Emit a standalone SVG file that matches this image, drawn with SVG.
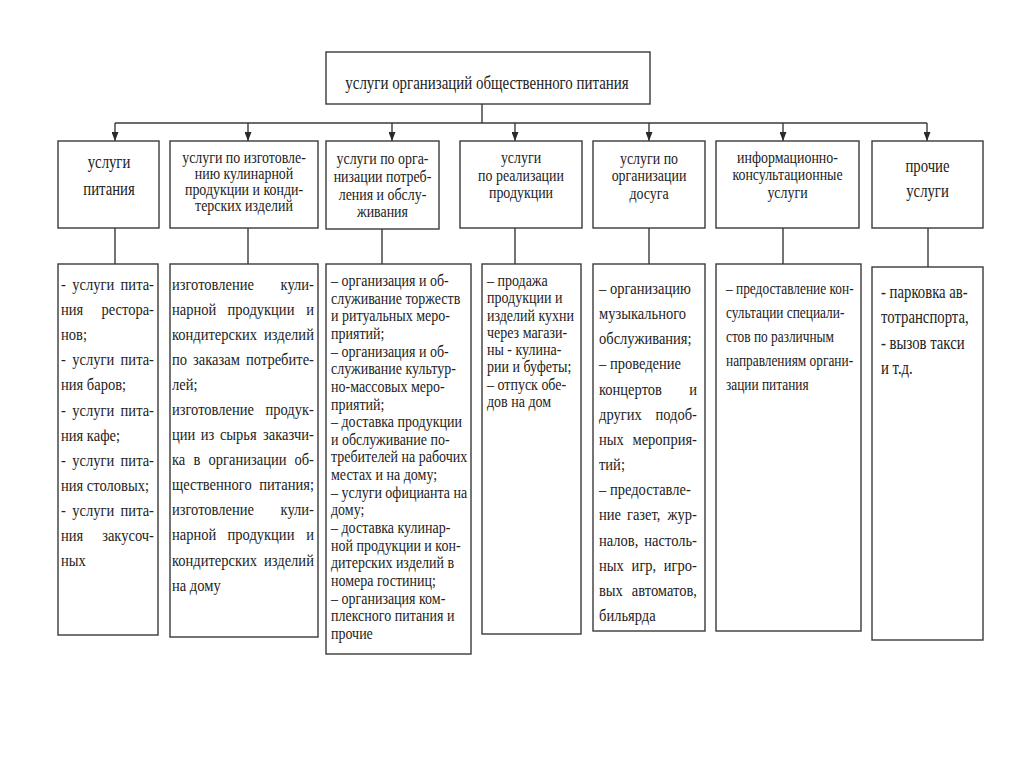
<svg xmlns="http://www.w3.org/2000/svg" width="1024" height="767" viewBox="0 0 1024 767">
<style>
.box{fill:#fff;stroke:#3a3a3a;stroke-width:1.4}
.ln{fill:none;stroke:#3a3a3a;stroke-width:1.4}
text{font-family:"Liberation Serif","Times New Roman",serif;fill:#222}
.t{font-size:17.5px}
.h{font-size:16px;text-anchor:middle}
.hb{font-size:18px;text-anchor:middle}
.e{text-anchor:end}
</style>
<defs>
<marker id="ah" markerUnits="userSpaceOnUse" markerWidth="9" markerHeight="7" refX="9" refY="3.5" orient="auto">
<path d="M0,0 L9,3.5 L0,7 Z" fill="#2a2a2a"/>
</marker>
</defs>
<rect width="1024" height="767" fill="#fff"/>

<g id="connectors">
<path class="ln" d="M482,104 V123 M115,123 H927"/>
<path class="ln" d="M115,123 V141" marker-end="url(#ah)"/>
<path class="ln" d="M248,123 V141" marker-end="url(#ah)"/>
<path class="ln" d="M392,123 V141" marker-end="url(#ah)"/>
<path class="ln" d="M515,123 V141" marker-end="url(#ah)"/>
<path class="ln" d="M649,123 V141" marker-end="url(#ah)"/>
<path class="ln" d="M783,123 V141" marker-end="url(#ah)"/>
<path class="ln" d="M927,123 V141" marker-end="url(#ah)"/>
<path class="ln" d="M115,228 V264 M248,228 V264 M382,228 V264 M515,228 V264 M649,228 V264 M783,228 V264 M928,228 V267"/>
</g>

<g id="root">
<rect class="box" x="326" y="52" width="324" height="52"/>
<g transform="translate(487,0) scale(0.765,1)"><text x="0" y="89" style="font-size:19.5px;text-anchor:middle">услуги организаций общественного питания</text></g>
</g>

<g id="h1">
<rect class="box" x="58" y="141" width="101" height="87"/>
<g transform="translate(109,0) scale(0.82,1)">
<text class="hb" x="0" y="168">услуги</text>
<text class="hb" x="0" y="195">питания</text>
</g>
</g>
<g id="h2">
<rect class="box" x="170" y="141" width="148" height="87"/>
<g transform="translate(244,0) scale(0.87,1)">
<text class="h" x="0" y="163">услуги по изготовле-</text>
<text class="h" x="0" y="179">нию кулинарной</text>
<text class="h" x="0" y="195">продукции и конди-</text>
<text class="h" x="0" y="211">терских изделий</text>
</g>
</g>
<g id="h3">
<rect class="box" x="326" y="141" width="113" height="88"/>
<g transform="translate(382.5,0) scale(0.87,1)">
<text class="h" x="0" y="164">услуги по орга-</text>
<text class="h" x="0" y="182">низации потреб-</text>
<text class="h" x="0" y="200">ления и обслу-</text>
<text class="h" x="0" y="217">живания</text>
</g>
</g>
<g id="h4">
<rect class="box" x="460" y="141" width="122" height="87"/>
<g transform="translate(521,0) scale(0.87,1)">
<text class="h" x="0" y="163">услуги</text>
<text class="h" x="0" y="181">по реализации</text>
<text class="h" x="0" y="198">продукции</text>
</g>
</g>
<g id="h5">
<rect class="box" x="593" y="141" width="112" height="87"/>
<g transform="translate(649,0) scale(0.87,1)">
<text class="h" x="0" y="164">услуги по</text>
<text class="h" x="0" y="181">организации</text>
<text class="h" x="0" y="199">досуга</text>
</g>
</g>
<g id="h6">
<rect class="box" x="716" y="141" width="143" height="87"/>
<g transform="translate(787.5,0) scale(0.87,1)">
<text class="h" x="0" y="163">информационно-</text>
<text class="h" x="0" y="180.5">консультационные</text>
<text class="h" x="0" y="198">услуги</text>
</g>
</g>
<g id="h7">
<rect class="box" x="872" y="141" width="111" height="87"/>
<g transform="translate(927.5,0) scale(0.82,1)">
<text class="hb" x="0" y="172">прочие</text>
<text class="hb" x="0" y="197">услуги</text>
</g>
</g>

<g id="d1">
<rect class="box" x="58" y="264" width="100" height="371"/>
<g class="t" transform="translate(61,0) scale(0.83,1)">
<text x="0" y="290">-</text><text x="13.7" y="290">услуги</text><text class="e" x="112" y="290">пита-</text>
<text x="0" y="315">ния</text><text class="e" x="112" y="315">рестора-</text>
<text x="0" y="340">нов;</text>
<text x="0" y="365">-</text><text x="13.7" y="365">услуги</text><text class="e" x="112" y="365">пита-</text>
<text x="0" y="390">ния баров;</text>
<text x="0" y="416">-</text><text x="13.7" y="416">услуги</text><text class="e" x="112" y="416">пита-</text>
<text x="0" y="441">ния кафе;</text>
<text x="0" y="466">-</text><text x="13.7" y="466">услуги</text><text class="e" x="112" y="466">пита-</text>
<text x="0" y="491">ния столовых;</text>
<text x="0" y="516">-</text><text x="13.7" y="516">услуги</text><text class="e" x="112" y="516">пита-</text>
<text x="0" y="541">ния</text><text class="e" x="112" y="541">закусоч-</text>
<text x="0" y="566">ных</text>
</g>
</g>

<g id="d2">
<rect class="box" x="170" y="264" width="148" height="373"/>
<g class="t" transform="translate(172,0) scale(0.83,1)">
<text x="0" y="290">изготовление</text><text class="e" x="171" y="290">кули-</text>
<text x="0" y="315">нарной</text><text x="66.9" y="315">продукции</text><text class="e" x="171" y="315">и</text>
<text x="0" y="340">кондитерских</text><text class="e" x="171" y="340">изделий</text>
<text x="0" y="365">по</text><text x="25.3" y="365">заказам</text><text class="e" x="171" y="365">потребите-</text>
<text x="0" y="390">лей;</text>
<text x="0" y="415">изготовление</text><text class="e" x="171" y="415">продук-</text>
<text x="0" y="440">ции</text><text x="34.7" y="440">из</text><text x="57.7" y="440">сырья</text><text class="e" x="171" y="440">заказчи-</text>
<text x="0" y="465">ка</text><text x="26" y="465">в</text><text x="44.1" y="465">организации</text><text class="e" x="171" y="465">об-</text>
<text x="0" y="490">щественного</text><text class="e" x="171" y="490">питания;</text>
<text x="0" y="515">изготовление</text><text class="e" x="171" y="515">кули-</text>
<text x="0" y="540">нарной</text><text x="66.9" y="540">продукции</text><text class="e" x="171" y="540">и</text>
<text x="0" y="566">кондитерских</text><text class="e" x="171" y="566">изделий</text>
<text x="0" y="591">на дому</text>
</g>
</g>

<g id="d3">
<rect class="box" x="326" y="264" width="145" height="390"/>
<g class="t" transform="translate(331,0) scale(0.8,1)">
<text x="0" y="286">– организация и об-</text>
<text x="0" y="303.6">служивание торжеств</text>
<text x="0" y="321.3">и ритуальных меро-</text>
<text x="0" y="339">приятий;</text>
<text x="0" y="356.6">– организация и об-</text>
<text x="0" y="374.3">служивание культур-</text>
<text x="0" y="392">но-массовых меро-</text>
<text x="0" y="409.6">приятий;</text>
<text x="0" y="427.2">– доставка продукции</text>
<text x="0" y="444.9">и обслуживание по-</text>
<text x="0" y="462.5">требителей на рабочих</text>
<text x="0" y="480.2">местах и на дому;</text>
<text x="0" y="497.8">– услуги официанта на</text>
<text x="0" y="515.5">дому;</text>
<text x="0" y="533.1">– доставка кулинар-</text>
<text x="0" y="550.8">ной продукции и кон-</text>
<text x="0" y="568.4">дитерских изделий в</text>
<text x="0" y="586">номера гостиниц;</text>
<text x="0" y="603.7">– организация ком-</text>
<text x="0" y="621.3">плексного питания и</text>
<text x="0" y="639">прочие</text>
</g>
</g>

<g id="d4">
<rect class="box" x="482" y="264" width="99" height="370"/>
<g class="t" transform="translate(487,0) scale(0.8,1)">
<text x="0" y="286">– продажа</text>
<text x="0" y="303.3">продукции и</text>
<text x="0" y="320.6">изделий кухни</text>
<text x="0" y="337.9">через магази-</text>
<text x="0" y="355.2">ны - кулина-</text>
<text x="0" y="372.5">рии и буфеты;</text>
<text x="0" y="389.8">– отпуск обе-</text>
<text x="0" y="407.1">дов на дом</text>
</g>
</g>

<g id="d5">
<rect class="box" x="593" y="264" width="112" height="367"/>
<g class="t" transform="translate(599,0) scale(0.83,1)">
<text x="0" y="294">– организацию</text>
<text x="0" y="319">музыкального</text>
<text x="0" y="344">обслуживания;</text>
<text x="0" y="369">– проведение</text>
<text x="0" y="395">концертов</text><text class="e" x="118" y="395">и</text>
<text x="0" y="420">других</text><text class="e" x="118" y="420">подоб-</text>
<text x="0" y="445">ных</text><text class="e" x="118" y="445">мероприя-</text>
<text x="0" y="470">тий;</text>
<text x="0" y="495">– предоставле-</text>
<text x="0" y="520">ние</text><text x="33.7" y="520">газет,</text><text class="e" x="118" y="520">жур-</text>
<text x="0" y="546">налов,</text><text class="e" x="118" y="546">настоль-</text>
<text x="0" y="571">ных</text><text x="39.3" y="571">игр,</text><text class="e" x="118" y="571">игро-</text>
<text x="0" y="596">вых</text><text class="e" x="118" y="596">автоматов,</text>
<text x="0" y="621">бильярда</text>
</g>
</g>

<g id="d6">
<rect class="box" x="716" y="264" width="145" height="367"/>
<g transform="translate(726,0) scale(0.81,1)" style="font-size:16.5px">
<text x="0" y="294">– предоставление кон-</text>
<text x="0" y="318">сультации специали-</text>
<text x="0" y="342">стов по различным</text>
<text x="0" y="366">направлениям органи-</text>
<text x="0" y="390">зации питания</text>
</g>
</g>

<g id="d7">
<rect class="box" x="872" y="267" width="111" height="373"/>
<g transform="translate(881,0) scale(0.82,1)" style="font-size:18px">
<text x="0" y="298">- парковка ав-</text>
<text x="0" y="323.5">тотранспорта,</text>
<text x="0" y="349">- вызов такси</text>
<text x="0" y="374.5">и т.д.</text>
</g>
</g>
</svg>
